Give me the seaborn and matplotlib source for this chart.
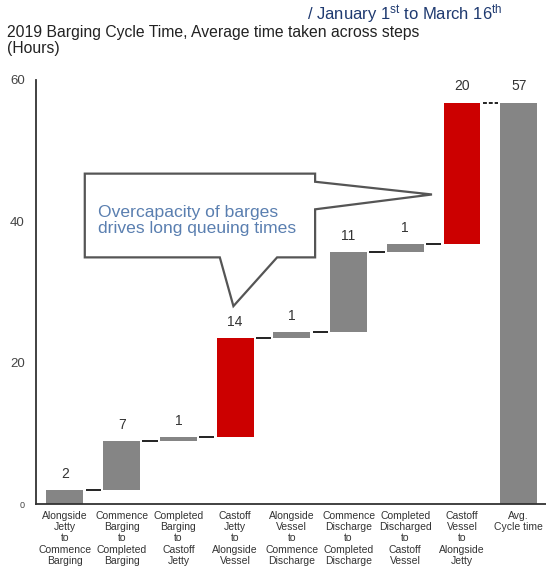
import matplotlib
matplotlib.use("Agg")
import matplotlib.pyplot as plt
from matplotlib.patches import Polygon
import numpy as np
import seaborn as sns

# ---------------------------------------------------------------------------
# Data (hours)
# ---------------------------------------------------------------------------
STEPS = [
    "Alongside\nJetty\nto\nCommence\nBarging",
    "Commence\nBarging\nto\nCompleted\nBarging",
    "Completed\nBarging\nto\nCastoff\nJetty",
    "Castoff\nJetty\nto\nAlongside\nVessel",
    "Alongside\nVessel\nto\nCommence\nDischarge",
    "Commence\nDischarge\nto\nCompleted\nDischarge",
    "Completed\nDischarged\nto\nCastoff\nVessel",
    "Castoff\nVessel\nto\nAlongside\nJetty",
    "Avg.\nCycle time",
]
STEP_HOURS = [2.0, 6.9, 0.6, 14.0, 0.8, 11.4, 1.1, 20.0]
HIGHLIGHT = [False, False, False, True, False, False, False, True]
TOTAL_HOURS = 56.8

GREY = "#858585"
RED = "#CC0000"

sns.set_theme(style="white")
plt.rcParams["font.family"] = ["Liberation Sans", "DejaVu Sans"]
plt.rcParams["mathtext.fontset"] = "custom"
plt.rcParams["mathtext.rm"] = "Liberation Sans"
plt.rcParams["mathtext.it"] = "Liberation Sans"

steps = np.array(STEP_HOURS)
tops = np.cumsum(steps)
bases = np.concatenate([[0.0], tops[:-1]])
heights = np.concatenate([steps, [TOTAL_HOURS]])
bottoms = np.concatenate([bases, [0.0]])
colors = [RED if h else GREY for h in HIGHLIGHT] + [GREY]
labels = [f"{v:.0f}" for v in heights]

W, H = 546, 577
fig = plt.figure(figsize=(W / 100, H / 100), dpi=100)
ax = fig.add_axes([36 / W, 1 - 504 / H, 1 - 36 / W, (504 - 80) / H])

BAR_W = 0.65
sns.barplot(x=STEPS, y=heights, bottom=bottoms, color=GREY, width=BAR_W,
            saturation=1, linewidth=0, ax=ax)
for patch, c in zip(ax.patches, colors):
    patch.set_facecolor(c)

# connectors between steps (dashed into the total)
gap = 0.04
for i, lvl in enumerate(tops):
    last = i == len(tops) - 1
    ax.plot([i + BAR_W / 2 + gap, i + 1 - BAR_W / 2 - gap], [lvl, lvl],
            color="#222222", lw=1.4, ls="--" if last else "-",
            dashes=(2, 1) if last else (None, None), solid_capstyle="butt")

# value labels
for i, (b, h, lab) in enumerate(zip(bottoms, heights, labels)):
    ax.text(i, b + h + 1.3, lab, ha="center", va="bottom", fontsize=10, color="#333333")

ax.set_xlim(-0.51, 8.48)
ax.set_ylim(0, 60)
ax.set_yticks([0, 20, 40, 60])
ax.set_yticklabels(["0", "20", "40", "60"])
for t in ax.get_yticklabels():
    t.set_fontsize(6.5 if t.get_text() == "0" else 9.5)
    t.set_color("#444444")
ax.tick_params(axis="y", length=0, pad=8)
ax.tick_params(axis="x", length=0, pad=5, labelsize=7.5, labelcolor="#333333")
for t in ax.get_xticklabels():
    t.set_linespacing(1.15)
ax.set_xlabel("")
ax.set_ylabel("")
sns.despine(ax=ax, top=True, right=True)
for side in ("left", "bottom"):
    ax.spines[side].set_color("#333333")
    ax.spines[side].set_linewidth(1.3)
ax.grid(False)

# callout
callout = [
    (0.35, 46.75), (4.41, 46.75), (4.41, 45.6), (6.47, 43.8), (4.41, 41.7),
    (4.41, 34.9), (3.74, 34.9), (2.97, 28.0), (2.73, 34.9), (0.35, 34.9),
]
ax.add_patch(Polygon(callout, closed=True, facecolor="white", edgecolor="#555555",
                     lw=1.6, zorder=5, clip_on=False))
ax.text(0.58, 40.1, "Overcapacity of barges\ndrives long queuing times",
        ha="left", va="center", fontsize=12.6, color="#5A7FB0", linespacing=1.12, zorder=6)

# titles
fig.text(7 / W, 1 - 36.7 / H, "2019 Barging Cycle Time, Average time taken across steps",
         ha="left", va="baseline", fontsize=11.3, color="#222222")
fig.text(7 / W, 1 - 53 / H, "(Hours)", ha="left", va="baseline", fontsize=11.3, color="#222222")
fig.text(502 / W, 1 - 14 / H, r"/ January 1$^{\mathrm{st}}$ to March 16$^{\mathrm{th}}$",
         ha="right", va="center", fontsize=12, color="#1F3A70")

fig.savefig("out.png", dpi=100)
